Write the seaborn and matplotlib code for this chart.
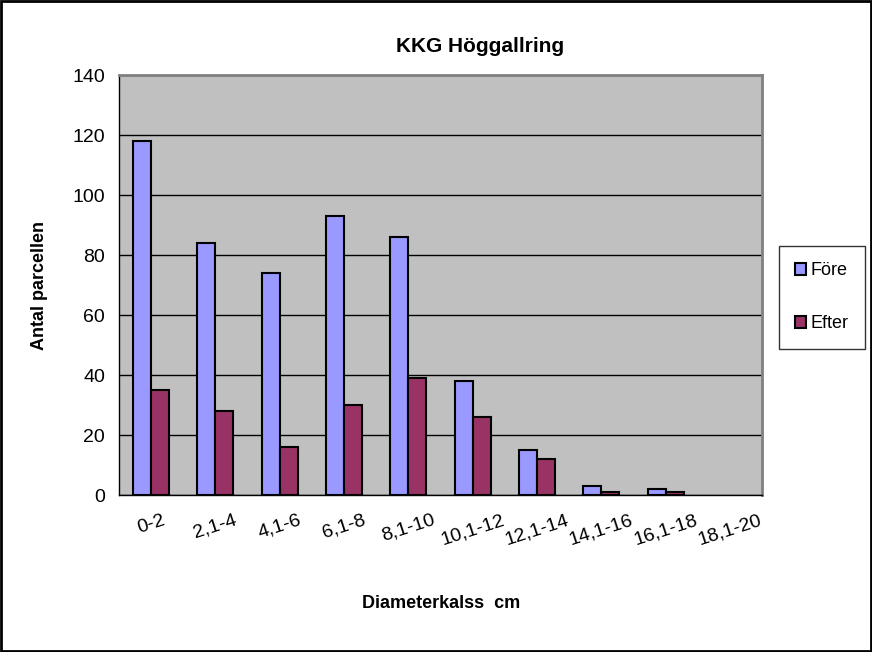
import pandas as pd
import matplotlib.pyplot as plt
import seaborn as sns

# data
klasser = ['0-2', '2,1-4', '4,1-6', '6,1-8', '8,1-10', '10,1-12',
           '12,1-14', '14,1-16', '16,1-18', '18,1-20']
fore = [118, 84, 74, 93, 86, 38, 15, 3, 2, 0]
efter = [35, 28, 16, 30, 39, 26, 12, 1, 1, 0]

df = pd.DataFrame({'Klass': klasser * 2,
                   'Antal': fore + efter,
                   'Serie': ['Före'] * len(klasser) + ['Efter'] * len(klasser)})

sns.set_style('white')
plt.rcParams['font.family'] = ['Liberation Sans', 'DejaVu Sans']
plt.rcParams['text.color'] = 'black'
plt.rcParams['xtick.color'] = 'black'
plt.rcParams['ytick.color'] = 'black'

fig = plt.figure(figsize=(8.72, 6.52), dpi=100)
ax = fig.add_axes([119 / 872, 1 - 495 / 652, 643 / 872, 420 / 652])
ax.set_facecolor('#C0C0C0')

sns.barplot(data=df, x='Klass', y='Antal', hue='Serie', ax=ax,
            palette={'Före': '#9999FF', 'Efter': '#993366'},
            width=0.56, edgecolor='black', linewidth=1.5, saturation=1)

# empty bars are not drawn in the reference (keep legend proxies)
for p in ax.patches:
    if p.get_height() == 0 and p.get_width() > 0:
        p.set_visible(False)

ax.set_ylim(0, 140)
ax.set_yticks(range(0, 141, 20))
ax.set_xlim(-0.5, len(klasser) - 0.5)
ax.yaxis.grid(True, color='black', linewidth=1)
ax.set_axisbelow(True)

# ticks between categories, labels at centre
ax.set_xticks([i - 0.5 for i in range(len(klasser) + 1)], minor=True)
ax.tick_params(axis='x', which='major', length=0, labelsize=14, pad=12)
ax.tick_params(axis='x', which='minor', length=6, direction='out', width=1, color='black')
ax.tick_params(axis='y', length=6, direction='out', width=1, color='black', labelsize=14, pad=4)
for lab in ax.get_xticklabels():
    lab.set_rotation(18)
    lab.set_ha('center')

for side in ['left', 'bottom']:
    ax.spines[side].set_color('black')
    ax.spines[side].set_linewidth(1)
for side in ['top', 'right']:
    ax.spines[side].set_color('#808080')
    ax.spines[side].set_linewidth(2)

ax.set_xlabel('')
ax.set_ylabel('')
fig.text(40 / 872, 1 - 285 / 652, 'Antal parcellen', fontsize=13, fontweight='bold',
         rotation=90, ha='center', va='center')
fig.text(441 / 872, 1 - 604 / 652, 'Diameterkalss  cm', fontsize=13,
         fontweight='bold', ha='center', va='center')
fig.text(480 / 872, 1 - 46 / 652, 'KKG Höggallring', fontsize=15,
         fontweight='bold', ha='center', va='center')

leg = ax.legend(loc='upper left', bbox_to_anchor=(779 / 872, 1 - 246 / 652),
                bbox_transform=fig.transFigure, frameon=True, fancybox=False,
                fontsize=13, handlelength=0.6, handleheight=0.6, handletextpad=0.25,
                labelspacing=2.0, borderpad=0.9, borderaxespad=0, title=None)
leg.get_frame().set_edgecolor('black')
leg.get_frame().set_linewidth(1)
for h in leg.legend_handles:
    h.set_edgecolor('black')
    h.set_linewidth(1.5)

# outer border
fig.patches.append(plt.Rectangle((0.001, 0.001), 0.998, 0.998, transform=fig.transFigure,
                                 fill=False, edgecolor='black', linewidth=2))

fig.savefig('out.png', dpi=100)
